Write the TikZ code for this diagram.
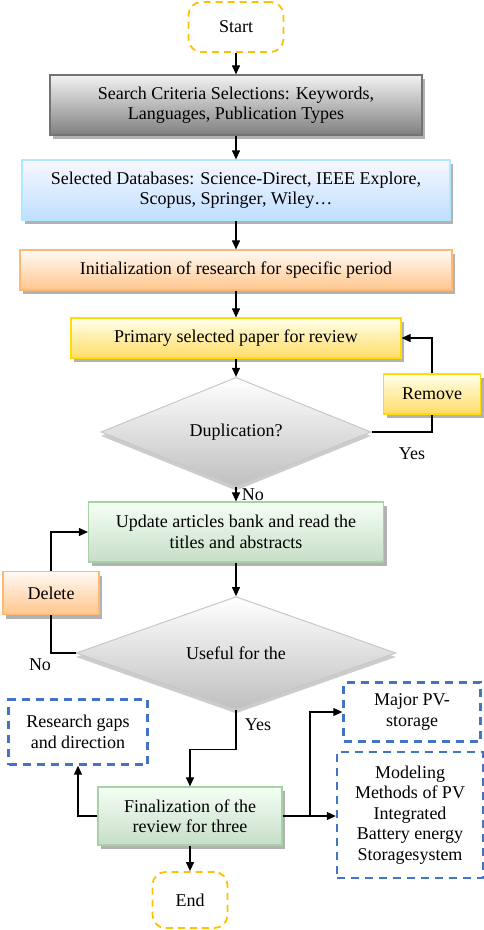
\documentclass[tikz,border=0pt]{standalone}
\usepackage{fontspec}
\setmainfont{Liberation Serif}
\usetikzlibrary{shapes.geometric,shadows,arrows.meta}
\definecolor{termc}{HTML}{FFC000}
\definecolor{outc}{HTML}{4472C4}
\begin{document}
\begin{tikzpicture}[x=1pt,y=-1pt,
    font=\fontsize{18}{20.5}\selectfont,
    >={Triangle[length=9pt,width=8pt]},
    arr/.style={->,line width=1.1pt},
    lin/.style={line width=1.1pt},
    term/.style={draw=termc,line width=1.8pt,dash pattern=on 7pt off 5pt,rounded corners=13pt,align=center},
    box/.style={draw,line width=1.2pt,align=center,inner sep=2pt,drop shadow={shadow xshift=3pt,shadow yshift=-4pt,fill=black,opacity=0.3}},
    dec/.style={diamond,draw=black!22,line width=1pt,top color=white,bottom color=black!25,inner sep=0pt,drop shadow={shadow xshift=0pt,shadow yshift=-4pt,fill=black,opacity=0.2}},
    outb/.style={draw=outc,line width=2.4pt,dash pattern=on 8pt off 6pt,align=center}]
    \useasboundingbox (0,0) rectangle (484,930);
    % main column
    \node[term,minimum width=95pt,minimum height=50pt] (start) at (236,27) {Start};
    \node[box,draw=black!55,top color=black!5,bottom color=black!50,minimum width=372pt,minimum height=60pt] (crit) at (236,105) {Search Criteria Selections: Keywords,\\Languages, Publication Types};
    \node[box,draw=blue!30!cyan!30,top color=blue!3,bottom color=blue!50!cyan!25,minimum width=428pt,minimum height=60pt] (db) at (236,190) {Selected Databases: Science-Direct, IEEE Explore,\\Scopus, Springer, Wiley\ldots};
    \node[box,draw=orange!55,top color=orange!4,bottom color=orange!45,minimum width=432pt,minimum height=40pt] (init) at (236,270) {Initialization of research for specific period};
    \node[box,draw=yellow!80!orange,top color=yellow!8,bottom color=yellow!55!orange!60,minimum width=330pt,minimum height=40pt] (prim) at (236,338) {Primary selected paper for review};
    \node[dec,minimum width=270pt,minimum height=80pt] (dup) at (236,432) {Duplication?};
    \node[box,draw=yellow!80!orange,top color=yellow!8,bottom color=yellow!55!orange!60,minimum width=97pt,minimum height=40pt] (rem) at (432,394) {Remove};
    \node[box,draw=green!50!black!35,top color=green!4,bottom color=green!40!black!22,minimum width=295pt,minimum height=60pt] (upd) at (236,532) {Update articles bank and read the\\titles and abstracts};
    \node[dec,minimum width=320pt,minimum height=107pt] (use) at (236,653) {Useful for the};
    \node[box,draw=orange!55,top color=orange!4,bottom color=orange!45,minimum width=96pt,minimum height=43pt] (del) at (51,593) {Delete};
    \node[box,draw=green!50!black!35,top color=green!4,bottom color=green!40!black!22,minimum width=184pt,minimum height=58pt] (fin) at (190,816) {Finalization of the\\review for three};
    \node[term,minimum width=75pt,minimum height=56pt] (end) at (190,900) {End};
    % outputs
    \node[outb,minimum width=139pt,minimum height=65pt] (gap) at (78,732) {Research gaps\\and direction};
    \node[outb,minimum width=137pt,minimum height=59pt] (major) at (412,712) {Major PV-\\storage};
    \node[outb,minimum width=146pt,minimum height=126pt] (model) at (410,815) {Modeling\\Methods of PV\\Integrated\\Battery energy\\Storagesystem};
    % connectors
    \draw[arr] (start) -- (crit);
    \draw[arr] (crit) -- (db);
    \draw[arr] (db) -- (init);
    \draw[arr] (init) -- (prim);
    \draw[arr] (prim) -- (dup);
    \draw[lin] (dup.east) -| (rem.south);
    \draw[arr] (rem.north) |- (prim.east);
    \node (yes1) at (412,454) {Yes};
    \draw[arr] (dup) -- (upd) node[pos=0.5,right=2pt] (no1) {No};
    \draw[arr] (upd) -- (use);
    \draw[lin] (use.west) -| (del.south);
    \draw[arr] (del.north) |- (upd.west);
    \node (no2) at (40,665) {No};
    \draw[arr] (use.south) -- ++(0,40) -| (fin.north);
    \node (yes2) at (258,725) {Yes};
    \draw[arr] (fin.west) -| (gap.south);
    \draw[arr] (fin.east) -- (fin.east -| model.west);
    \coordinate (br) at (310,816);
    \draw[arr] (br) |- (major.west);
    \draw[arr] (fin) -- (end);
\end{tikzpicture}
\end{document}
